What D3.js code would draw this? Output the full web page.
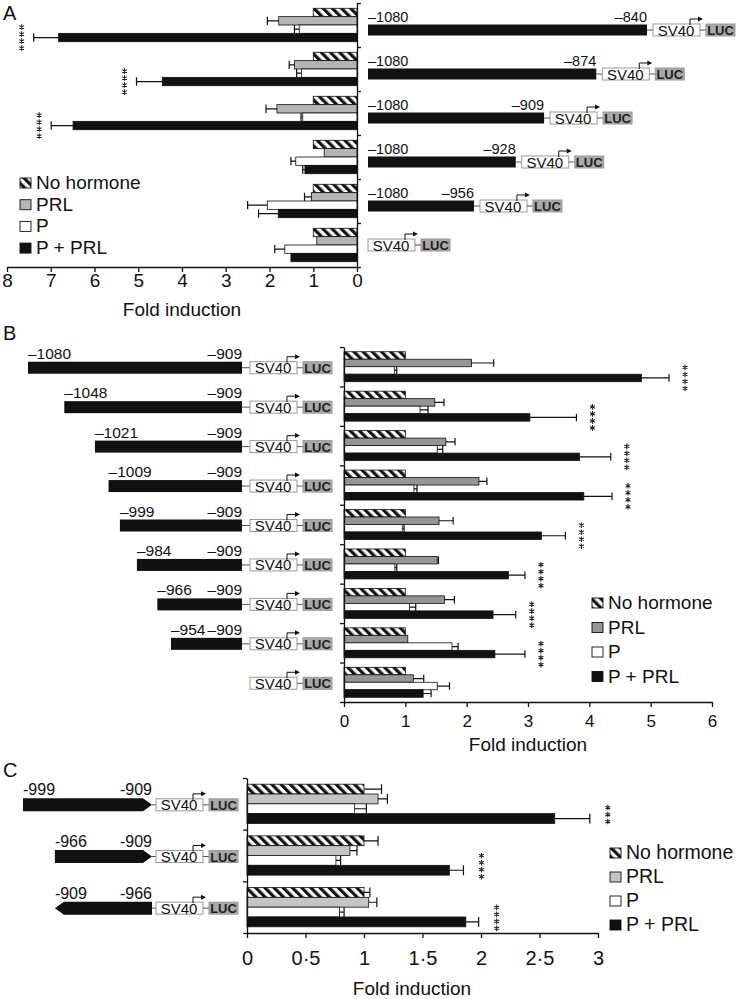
<!DOCTYPE html>
<html lang="en">
<head>
<meta charset="UTF-8" />
<title>Fold induction of promoter deletion constructs</title>
<script src="https://d3js.org/d3.v7.min.js"></script>
<style>
    body { margin: 0; background: #fff; }
    svg { display: block; font-family: "Liberation Sans", Arial, sans-serif; }
</style>
</head>
<body>
<script>
var w = 739;
var h = 999;

var seriesNames = ["No hormone", "PRL", "P", "P + PRL"];

// Panel A: constructs -1080 to ...
var startA = [-1080, -1080, -1080, -1080, -1080, null];
var endA = [-840, -874, -909, -928, -956, null];
var nhA = [1, 1, 1, 1, 1, 1];
var nhErrA = [0, 0, 0, 0, 0, 0];
var prlA = [1.79, 1.43, 1.83, 0.75, 1.04, 0.92];
var prlErrA = [0.26, 0.12, 0.25, 0, 0.16, 0];
var pA = [1.32, 1.27, 1.24, 1.40, 2.05, 1.65];
var pErrA = [0.11, 0.11, 0.04, 0.11, 0.45, 0.23];
var pprlA = [6.82, 4.45, 6.49, 1.19, 1.80, 1.51];
var pprlErrA = [0.57, 0.59, 0.50, 0.05, 0.45, 0];
var starsA = [4, 4, 4, 0, 0, 0];
var ticksA = [0, 1, 2, 3, 4, 5, 6, 7, 8];

// Panel B: constructs ... to -909
var startB = [-1080, -1048, -1021, -1009, -999, -984, -966, -954, null];
var endB = [-909, -909, -909, -909, -909, -909, -909, -909, null];
var nhB = [1, 1, 1, 1, 1, 1, 1, 1, 1];
var nhErrB = [0, 0, 0, 0, 0, 0, 0, 0, 0];
var prlB = [2.08, 1.48, 1.66, 2.20, 1.55, 1.52, 1.64, 1.04, 1.13];
var prlErrB = [0.36, 0.15, 0.15, 0.13, 0.23, 0.02, 0.16, 0, 0.17];
var pB = [0.82, 1.24, 1.52, 1.14, 0.95, 0.83, 1.07, 1.76, 1.52];
var pErrB = [0.04, 0.13, 0.09, 0.05, 0.03, 0.03, 0.10, 0.10, 0.20];
var pprlB = [4.85, 3.03, 3.84, 3.91, 3.22, 2.68, 2.43, 2.46, 1.29];
var pprlErrB = [0.45, 0.76, 0.51, 0.46, 0.39, 0.27, 0.37, 0.49, 0.13];
var starsB = [4, 4, 4, 4, 4, 4, 4, 4, 0];
var ticksB = [0, 1, 2, 3, 4, 5, 6];

// Panel C: orientation constructs
var fromC = [-999, -966, -909];
var toC = [-909, -909, -966];
var nhC = [1, 1, 1];
var nhErrC = [0.15, 0.12, 0.05];
var prlC = [1.12, 0.88, 1.04];
var prlErrC = [0.08, 0.06, 0.07];
var pC = [0.92, 0.76, 0.79];
var pErrC = [0.10, 0.04, 0.04];
var pprlC = [2.63, 1.73, 1.87];
var pprlErrC = [0.30, 0.12, 0.11];
var starsC = [3, 4, 4];
var ticksC = [0, 0.5, 1, 1.5, 2, 2.5, 3];

var svg = d3.select("body")
    .append("svg")
    .attr("width", w)
    .attr("height", h);

// hatched fill for "No hormone"
var hatch = svg.append("defs").append("pattern")
    .attr("id", "hatch")
    .attr("patternUnits", "userSpaceOnUse")
    .attr("width", 6.5)
    .attr("height", 6.5)
    .attr("patternTransform", "rotate(-45)");
hatch.append("rect").attr("width", 6.5).attr("height", 6.5).attr("fill", "#fff");
hatch.append("rect").attr("width", 3.2).attr("height", 6.5).attr("fill", "#111");

// Scales
var xA = d3.scaleLinear().domain([0, 8]).range([357, 7]);
var yA = d3.scaleBand().domain(d3.range(6)).range([3, 267]);
var xB = d3.scaleLinear().domain([0, 6]).range([344, 712]);
var yB = d3.scaleBand().domain(d3.range(9)).range([347, 702]);
var xC = d3.scaleLinear().domain([0, 3]).range([247, 598]);
var yC = d3.scaleBand().domain(d3.range(3)).range([778, 933]);

// drawn length of the promoter fragments (schematic, not to scale)
var lenA = d3.scaleLinear().domain([0, 240]).range([-79, 279]);
var lenB = d3.scaleLinear().domain([0, 171]).range([20, 214]);
var lenC = d3.scaleLinear().domain([0, 90]).range([42, 129]);

function dash(n) {
    return "\u2013" + Math.abs(n);
}

// six-spoke asterisk centred on 0,0
function asterisk(r) {
    var t = r / 2, u = t * Math.sqrt(3);
    return "M0," + r + "V" + (-r) +
        "M" + (-u) + "," + (-t) + "L" + u + "," + t +
        "M" + (-u) + "," + t + "L" + u + "," + (-t);
}

function drawBars(opt) {
    var g = svg.append("g");
    var bw = opt.y.bandwidth();
    var bh = bw * 0.19;
    var off = (bw - 4 * bh) / 2;
    var fills = ["url(#hatch)", opt.gray, "#fff", "#111"];

    opt.values.forEach(function(vals, s) {
        var errs = opt.errors[s];
        var cy = function(i) { return opt.y(i) + off + s * bh + bh / 2; };

        g.selectAll(null)
            .data(vals)
            .enter()
            .append("rect")
            .attr("x", function(d) { return Math.min(opt.x(0), opt.x(d)); })
            .attr("y", function(d, i) { return cy(i) - bh / 2; })
            .attr("width", function(d) { return Math.abs(opt.x(d) - opt.x(0)); })
            .attr("height", bh)
            .attr("fill", fills[s])
            .attr("stroke", "#111")
            .attr("stroke-width", 0.8);

        var withErr = vals.map(function(d, i) { return { v: d, e: errs[i], i: i }; })
            .filter(function(d) { return d.e > 0; });

        g.selectAll(null)
            .data(withErr)
            .enter()
            .append("path")
            .attr("d", function(d) {
                var x0 = opt.x(d.v), x1 = opt.x(d.v + d.e), y = cy(d.i);
                return "M" + x0 + "," + y + "H" + x1 + "M" + x1 + "," + (y - bh / 2) + "V" + (y + bh / 2);
            })
            .attr("fill", "none")
            .attr("stroke", "#111")
            .attr("stroke-width", 1.2);
    });

    // significance stars next to P + PRL, stacked vertically
    var last = opt.values[3];
    var lastErr = opt.errors[3];
    var step = 7;
    opt.stars.forEach(function(n, i) {
        if (!n) return;
        var xs = opt.x(last[i] + lastErr[i]) + opt.starGap;
        var ys = opt.y(i) + off + 3.5 * bh + opt.starShift;
        g.selectAll(null)
            .data(d3.range(n))
            .enter()
            .append("path")
            .attr("transform", function(k) {
                return "translate(" + xs + "," + (ys + (k - (n - 1) / 2) * step) + ")";
            })
            .attr("d", asterisk(2.8))
            .attr("fill", "none")
            .attr("stroke", "#222")
            .attr("stroke-width", 1.1);
    });
}

function styleAxis(sel, fs) {
    sel.attr("font-family", null).attr("font-size", fs);
    sel.selectAll("path, line").attr("stroke", "#111").attr("stroke-width", 1.3);
    sel.selectAll("text").attr("fill", "#111");
}

function drawLegend(x, y0, step, fs, gray) {
    var fills = ["url(#hatch)", gray, "#fff", "#111"];
    var g = svg.append("g");
    seriesNames.forEach(function(name, i) {
        var y = y0 + i * step;
        g.append("rect")
            .attr("x", x).attr("y", y - 11)
            .attr("width", 11).attr("height", 10)
            .attr("fill", fills[i])
            .attr("stroke", "#111")
            .attr("stroke-width", 0.9);
        g.append("text")
            .attr("x", x + 16).attr("y", y)
            .attr("font-size", fs)
            .attr("fill", "#111")
            .text(name);
    });
}

function promoter(g, px, cy) {
    var bh = 12;
    g.append("rect")
        .attr("x", px).attr("y", cy - bh / 2)
        .attr("width", 47).attr("height", bh)
        .attr("fill", "#fff").attr("stroke", "#999").attr("stroke-width", 1);
    g.append("text")
        .attr("x", px + 23).attr("y", cy + 5.5)
        .attr("text-anchor", "middle")
        .attr("font-size", 15)
        .attr("fill", "#111")
        .text("SV40");
    // transcription start arrow
    g.append("path")
        .attr("d", "M" + (px + 37) + "," + (cy - bh / 2 + 1) + "V" + (cy - 11) + "H" + (px + 46))
        .attr("fill", "none").attr("stroke", "#111").attr("stroke-width", 1);
    g.append("path")
        .attr("d", "M" + (px + 50) + "," + (cy - 11) + "l-5,-2.5v5z")
        .attr("fill", "#111");
    g.append("line")
        .attr("x1", px + 47).attr("x2", px + 53)
        .attr("y1", cy).attr("y2", cy)
        .attr("stroke", "#555").attr("stroke-width", 1);
    g.append("rect")
        .attr("x", px + 53).attr("y", cy - bh / 2)
        .attr("width", 29).attr("height", bh)
        .attr("fill", "#a8a8a8").attr("stroke", "#999").attr("stroke-width", 1);
    g.append("text")
        .attr("x", px + 67.5).attr("y", cy + 5)
        .attr("text-anchor", "middle")
        .attr("font-size", 13)
        .attr("font-weight", "bold")
        .attr("fill", "#222")
        .text("LUC");
}

function fragment(g, x0, x1, cy, bh, shape, l0, l1, fs, px) {
    var t = 9;
    if (shape === "right") {
        g.append("path")
            .attr("d", "M" + x0 + "," + (cy - bh / 2) + "H" + (x1 - t) + "L" + x1 + "," + cy +
                "L" + (x1 - t) + "," + (cy + bh / 2) + "H" + x0 + "Z")
            .attr("fill", "#111");
    } else if (shape === "left") {
        g.append("path")
            .attr("d", "M" + x1 + "," + (cy - bh / 2) + "H" + (x0 + t) + "L" + x0 + "," + cy +
                "L" + (x0 + t) + "," + (cy + bh / 2) + "H" + x1 + "Z")
            .attr("fill", "#111");
    } else {
        g.append("rect")
            .attr("x", x0).attr("y", cy - bh / 2)
            .attr("width", x1 - x0).attr("height", bh)
            .attr("fill", "#111");
    }
    g.append("text").attr("x", x0).attr("y", cy - bh / 2 - 3)
        .attr("font-size", fs).attr("fill", "#111").text(l0);
    g.append("text").attr("x", x1).attr("y", cy - bh / 2 - 3)
        .attr("text-anchor", "end")
        .attr("font-size", fs).attr("fill", "#111").text(l1);
    g.append("line")
        .attr("x1", x1).attr("x2", px)
        .attr("y1", cy).attr("y2", cy)
        .attr("stroke", "#555").attr("stroke-width", 1);
    promoter(g, px, cy);
}

// ---------- Panel A ----------
drawBars({
    x: xA, y: yA, gray: "#b5b5b5",
    values: [nhA, prlA, pA, pprlA],
    errors: [nhErrA, prlErrA, pErrA, pprlErrA],
    stars: starsA, starGap: -12, starShift: 0
});

svg.append("g")
    .attr("transform", "translate(0,267)")
    .call(d3.axisBottom(xA).tickValues(ticksA).tickFormat(d3.format("d"))
        .tickSize(5).tickSizeOuter(0).tickPadding(2))
    .call(styleAxis, 19);

svg.append("g")
    .attr("transform", "translate(357,0)")
    .call(d3.axisRight(d3.scaleLinear().domain([0, 6]).range([3, 267]))
        .ticks(6).tickFormat("").tickSize(4).tickSizeOuter(0))
    .call(styleAxis, 10);

var gA = svg.append("g");
startA.forEach(function(s, i) {
    var hasBar = s !== null;
    var cy = yA(i) + yA.bandwidth() / 2 + (hasBar ? 5 : 0);
    if (hasBar) {
        var x1 = 368 + lenA(endA[i] - s);
        fragment(gA, 368, x1, cy, 11, "bar", dash(s), dash(endA[i]), 14.5, x1 + 6);
    } else {
        promoter(gA, 368, cy);
    }
});

drawLegend(20, 189, 21.7, 19, "#b5b5b5");

svg.append("text").attr("x", 182).attr("y", 316).attr("text-anchor", "middle")
    .attr("font-size", 19).attr("fill", "#111").text("Fold induction");
svg.append("text").attr("x", 3).attr("y", 20)
    .attr("font-size", 20).attr("fill", "#111").text("A");

// ---------- Panel B ----------
drawBars({
    x: xB, y: yB, gray: "#959595",
    values: [nhB, prlB, pB, pprlB],
    errors: [nhErrB, prlErrB, pErrB, pprlErrB],
    stars: starsB, starGap: 16, starShift: 0
});

svg.append("g")
    .attr("transform", "translate(0,702)")
    .call(d3.axisBottom(xB).tickValues(ticksB).tickFormat(d3.format("d"))
        .tickSize(5).tickSizeOuter(0).tickPadding(8))
    .call(styleAxis, 17);

svg.append("g")
    .attr("transform", "translate(344,0)")
    .call(d3.axisLeft(d3.scaleLinear().domain([0, 9]).range([347, 702]))
        .ticks(9).tickFormat("").tickSize(4).tickSizeOuter(0))
    .call(styleAxis, 10);

var gB = svg.append("g");
startB.forEach(function(s, i) {
    var cy = yB(i) + yB.bandwidth() / 2 + 1;
    if (s !== null) {
        var x0 = 242 - lenB(endB[i] - s);
        fragment(gB, x0, 242, cy, 12, "bar", dash(s), dash(endB[i]), 15.5, 250);
    } else {
        promoter(gB, 250, cy);
    }
});

drawLegend(592, 609, 24.5, 19, "#959595");

svg.append("text").attr("x", 528).attr("y", 751).attr("text-anchor", "middle")
    .attr("font-size", 19).attr("fill", "#111").text("Fold induction");
svg.append("text").attr("x", 3).attr("y", 340)
    .attr("font-size", 20).attr("fill", "#111").text("B");

// ---------- Panel C ----------
drawBars({
    x: xC, y: yC, gray: "#c4c4c4",
    values: [nhC, prlC, pC, pprlC],
    errors: [nhErrC, prlErrC, pErrC, pprlErrC],
    stars: starsC, starGap: 18, starShift: -4
});

svg.append("g")
    .attr("transform", "translate(0,933)")
    .call(d3.axisBottom(xC).tickValues(ticksC)
        .tickFormat(function(d) { return String(d).replace(".", "\u00b7"); })
        .tickSize(5).tickSizeOuter(0).tickPadding(13))
    .call(styleAxis, 20);

svg.append("g")
    .attr("transform", "translate(247,0)")
    .call(d3.axisLeft(d3.scaleLinear().domain([0, 3]).range([778, 933]))
        .ticks(3).tickFormat("").tickSize(4).tickSizeOuter(0))
    .call(styleAxis, 10);

var gC = svg.append("g");
fromC.forEach(function(f, i) {
    var cy = yC(i) + yC.bandwidth() / 2 + 1;
    var len = Math.abs(toC[i] - f);
    var x0 = 152 - lenC(len);
    var shape = toC[i] > f ? "right" : "left";
    fragment(gC, x0, 152, cy, 13, shape, "-" + Math.abs(f), "-" + Math.abs(toC[i]), 16, 156);
});

drawLegend(610, 859, 24, 19.5, "#c4c4c4");

svg.append("text").attr("x", 412).attr("y", 995).attr("text-anchor", "middle")
    .attr("font-size", 19).attr("fill", "#111").text("Fold induction");
svg.append("text").attr("x", 3).attr("y", 777)
    .attr("font-size", 20).attr("fill", "#111").text("C");
</script>
</body>
</html>
